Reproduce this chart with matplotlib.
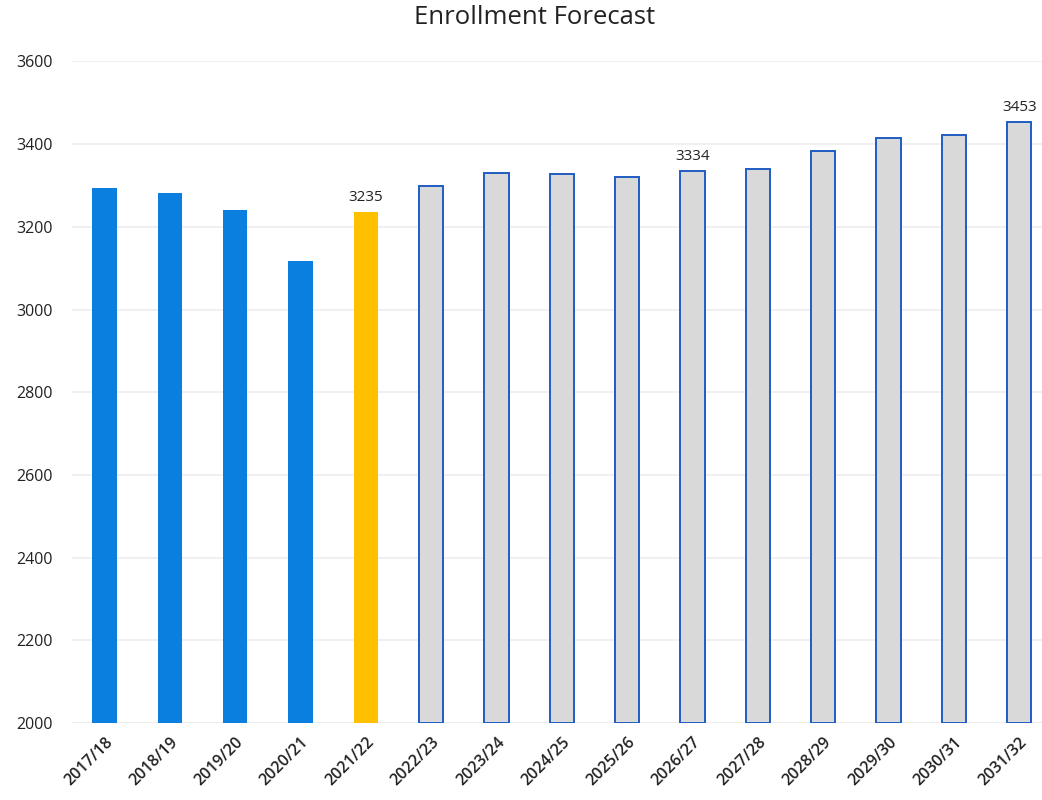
import matplotlib
matplotlib.use("Agg")
import matplotlib.pyplot as plt

years = ["2017/18", "2018/19", "2019/20", "2020/21", "2021/22", "2022/23", "2023/24",
         "2024/25", "2025/26", "2026/27", "2027/28", "2028/29", "2029/30", "2030/31", "2031/32"]
enrollment = [3294, 3283, 3240, 3117, 3235, 3299, 3331, 3328, 3321, 3334, 3340, 3384, 3415, 3423, 3453]
kind = ["actual"] * 4 + ["current"] + ["forecast"] * 10
labeled = ["2021/22", "2026/27", "2031/32"]
yticks = [2000, 2200, 2400, 2600, 2800, 3000, 3200, 3400, 3600]

plt.rcParams['font.family'] = ['Open Sans', 'DejaVu Sans']

fig = plt.figure(figsize=(10.42, 8.0), dpi=100)
ax = fig.add_axes([0.069, 0.0963, 0.9405, 0.8269])

face = {"actual": "#0a7fe0", "current": "#ffc000", "forecast": "#d9d9d9"}
edge = {"actual": "#0a7fe0", "current": "#ffc000", "forecast": "#1f5cc4"}
lw = {"actual": 0, "current": 0, "forecast": 1.4}

x = list(range(len(years)))
for i, (yr, v, k) in enumerate(zip(years, enrollment, kind)):
    ax.bar(i, v - 2000, bottom=2000, width=0.37, color=face[k], edgecolor=edge[k],
           linewidth=lw[k], zorder=3)
    if yr in labeled:
        ax.text(i, v + 18, str(v), ha="center", va="bottom", fontsize=11, color="#222222", zorder=4)

ax.set_xlim(-0.5, len(years) - 0.5)
ax.set_ylim(2000, 3600)
ax.set_yticks(yticks)
ax.set_yticklabels([str(t) for t in yticks], fontsize=11.5, color="#222222")
ax.set_xticks(x)
ax.set_xticklabels(years, rotation=45, ha="right", rotation_mode="anchor", fontsize=11.5,
                   color="#222222", fontweight="semibold")
ax.tick_params(axis="x", length=0, pad=8)
ax.tick_params(axis="y", length=0, pad=14)

ax.grid(axis="y", color="#ededed", linewidth=1.2, zorder=0)
for s in ax.spines.values():
    s.set_visible(False)
ax.axhline(2000, color="#e6e6e6", linewidth=1.2, zorder=1)

fig.text(0.513, 0.978, "Enrollment Forecast", ha="center", va="center", fontsize=18.5, color="#222222")

fig.savefig("out.png", dpi=100)
